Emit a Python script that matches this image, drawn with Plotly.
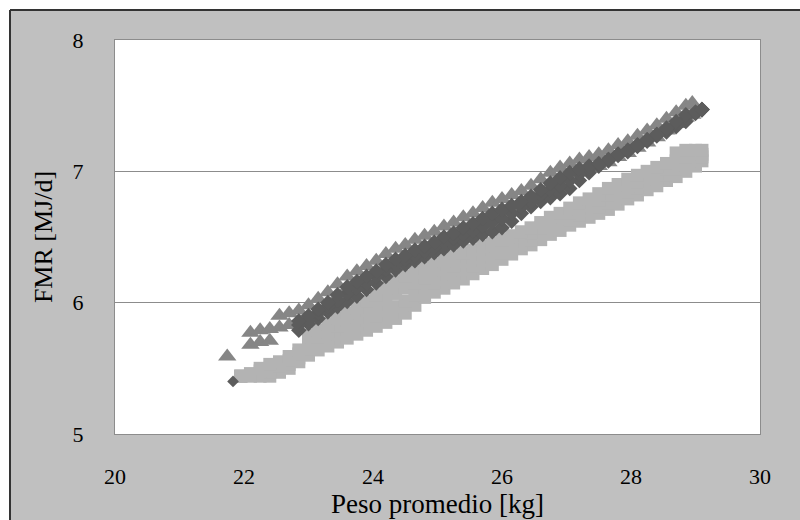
import plotly.graph_objects as go

# ---------------- data ----------------
# Triangles (medium grey series)
tri_single_x = [21.74]
tri_single_y = [5.59]
tri_x = [22.1, 22.25, 22.4, 22.55, 22.7, 22.85, 23.0, 23.15, 23.3, 23.45,
         23.6, 23.75, 23.9, 24.05, 24.2, 24.35, 24.5, 24.65, 24.8, 24.95,
         25.1, 25.25, 25.4, 25.55, 25.7, 25.85, 26.0, 26.15, 26.3, 26.45,
         26.6, 26.75, 26.9, 27.05, 27.2, 27.35, 27.5, 27.65, 27.8, 27.95,
         28.1, 28.25, 28.4, 28.55, 28.7, 28.85, 28.95]
tri_hi = [5.77, 5.79, 5.80, 5.90, 5.92, 5.94, 5.98, 6.03, 6.08, 6.14,
          6.20, 6.24, 6.28, 6.32, 6.37, 6.41, 6.44, 6.48, 6.51, 6.54,
          6.58, 6.61, 6.65, 6.68, 6.72, 6.76, 6.79, 6.82, 6.85, 6.89,
          6.94, 6.99, 7.03, 7.06, 7.09, 7.11, 7.13, 7.16, 7.20, 7.23,
          7.27, 7.31, 7.35, 7.40, 7.45, 7.50, 7.52]
tri_lo = [5.68, 5.70, 5.71, 5.81, 5.83, 5.85, 5.89, 5.94, 5.99, 6.05,
          6.11, 6.15, 6.19, 6.23, 6.28, 6.32, 6.35, 6.39, 6.42, 6.45,
          6.49, 6.52, 6.56, 6.59, 6.63, 6.67, 6.70, 6.73, 6.76, 6.80,
          6.85, 6.90, 6.94, 6.97, 7.00, 7.02, 7.04, 7.07, 7.11, 7.14,
          7.18, 7.22, 7.26, 7.31, 7.36, 7.41, 7.43]

# Squares (light grey series)
sq_x = [21.95, 22.1, 22.25, 22.4, 22.55, 22.7, 22.85, 23.0, 23.15, 23.3,
        23.45, 23.6, 23.75, 23.9, 24.05, 24.2, 24.35, 24.5, 24.65, 24.8,
        24.95, 25.1, 25.25, 25.4, 25.55, 25.7, 25.85, 26.0, 26.15, 26.3,
        26.45, 26.6, 26.75, 26.9, 27.05, 27.2, 27.35, 27.5, 27.65, 27.8,
        27.95, 28.1, 28.25, 28.4, 28.55, 28.7, 28.85, 29.0, 29.1]
sq_lo = [5.44, 5.44, 5.44, 5.44, 5.47, 5.50, 5.55, 5.60, 5.64, 5.67,
         5.70, 5.73, 5.76, 5.79, 5.82, 5.85, 5.88, 5.92, 5.98, 6.04,
         6.08, 6.11, 6.15, 6.18, 6.22, 6.26, 6.29, 6.33, 6.37, 6.41,
         6.44, 6.48, 6.52, 6.55, 6.59, 6.62, 6.65, 6.68, 6.71, 6.75,
         6.79, 6.82, 6.86, 6.89, 6.93, 6.96, 7.00, 7.04, 7.08]
sq_m1 = [5.44, 5.45, 5.46, 5.47, 5.50, 5.53, 5.58, 5.65, 5.69, 5.73,
         5.76, 5.79, 5.83, 5.86, 5.90, 5.94, 5.97, 6.01, 6.06, 6.11,
         6.15, 6.18, 6.22, 6.25, 6.28, 6.32, 6.34, 6.38, 6.42, 6.45,
         6.48, 6.52, 6.56, 6.59, 6.63, 6.67, 6.70, 6.73, 6.76, 6.80,
         6.84, 6.87, 6.91, 6.94, 6.97, 7.02, 7.05, 7.08, 7.11]
sq_m2 = [5.44, 5.45, 5.48, 5.50, 5.52, 5.56, 5.61, 5.70, 5.74, 5.78,
         5.82, 5.86, 5.89, 5.94, 5.98, 6.02, 6.07, 6.11, 6.15, 6.19,
         6.22, 6.25, 6.28, 6.31, 6.34, 6.37, 6.40, 6.43, 6.46, 6.50,
         6.53, 6.57, 6.61, 6.64, 6.68, 6.71, 6.74, 6.78, 6.82, 6.85,
         6.89, 6.92, 6.95, 6.98, 7.02, 7.08, 7.11, 7.12, 7.13]
sq_hi = [5.44, 5.46, 5.50, 5.53, 5.55, 5.59, 5.64, 5.75, 5.79, 5.84,
         5.88, 5.92, 5.96, 6.01, 6.06, 6.11, 6.16, 6.20, 6.23, 6.26,
         6.29, 6.32, 6.35, 6.38, 6.40, 6.43, 6.45, 6.48, 6.51, 6.54,
         6.57, 6.61, 6.65, 6.68, 6.72, 6.76, 6.79, 6.83, 6.87, 6.90,
         6.94, 6.97, 7.00, 7.03, 7.06, 7.14, 7.16, 7.16, 7.16]

# Diamonds (dark grey series)
dia_single_x = [21.83]
dia_single_y = [5.40]
dia_x = [22.85, 23.0, 23.15, 23.3, 23.45, 23.6, 23.75, 23.9, 24.05, 24.2,
         24.35, 24.5, 24.65, 24.8, 24.95, 25.1, 25.25, 25.4, 25.55, 25.7,
         25.85, 26.0, 26.15, 26.3, 26.45, 26.6, 26.75, 26.9, 27.05, 27.2,
         27.35, 27.5, 27.65, 27.8, 27.95, 28.1, 28.25, 28.4, 28.55, 28.7,
         28.85, 29.0, 29.1]
dia_lo = [5.79, 5.84, 5.88, 5.93, 5.97, 6.01, 6.05, 6.10, 6.15, 6.20,
          6.25, 6.29, 6.32, 6.35, 6.38, 6.41, 6.44, 6.47, 6.49, 6.52,
          6.54, 6.57, 6.62, 6.68, 6.73, 6.77, 6.80, 6.83, 6.87, 6.93,
          6.99, 7.04, 7.08, 7.12, 7.15, 7.19, 7.23, 7.27, 7.30, 7.34,
          7.38, 7.44, 7.47]
dia_mid = [5.83, 5.87, 5.92, 5.97, 6.02, 6.07, 6.11, 6.15, 6.20, 6.25,
           6.29, 6.33, 6.36, 6.39, 6.42, 6.46, 6.49, 6.52, 6.55, 6.58,
           6.61, 6.64, 6.68, 6.73, 6.77, 6.82, 6.86, 6.89, 6.93, 6.98,
           7.02, 7.05, 7.09, 7.13, 7.16, 7.20, 7.24, 7.28, 7.32, 7.36,
           7.41, 7.45, 7.47]
dia_hi = [5.86, 5.90, 5.95, 6.00, 6.06, 6.12, 6.16, 6.20, 6.24, 6.29,
          6.33, 6.36, 6.40, 6.43, 6.46, 6.50, 6.53, 6.57, 6.60, 6.64,
          6.68, 6.71, 6.74, 6.77, 6.81, 6.86, 6.91, 6.95, 6.99, 7.02,
          7.04, 7.06, 7.09, 7.13, 7.16, 7.20, 7.24, 7.28, 7.33, 7.38,
          7.43, 7.45, 7.47]

x_ticks = [20, 22, 24, 26, 28, 30]
y_ticks = [5, 6, 7, 8]
x_title = "Peso promedio [kg]"
y_title = "FMR [MJ/d]"

# ---------------- figure ----------------
FONT = "Liberation Serif, Times New Roman, serif"
C_TRI = "#868686"
C_SQ = "#b3b3b3"
C_DIA = "#5c5c5c"

fig = go.Figure()

fig.add_trace(go.Scatter(
    x=tri_single_x + tri_x + tri_x,
    y=tri_single_y + tri_lo + tri_hi,
    mode="markers",
    marker=dict(symbol="triangle-up", size=16, color=C_TRI, line=dict(width=0)),
    hoverinfo="skip"))

fig.add_trace(go.Scatter(
    x=sq_x + sq_x + sq_x + sq_x,
    y=sq_lo + sq_m1 + sq_m2 + sq_hi,
    mode="markers",
    marker=dict(symbol="square", size=13, color=C_SQ, line=dict(width=0)),
    hoverinfo="skip"))

fig.add_trace(go.Scatter(
    x=dia_single_x, y=dia_single_y,
    mode="markers",
    marker=dict(symbol="diamond", size=9, color=C_DIA, line=dict(width=0)),
    hoverinfo="skip"))

fig.add_trace(go.Scatter(
    x=dia_x + dia_x + dia_x,
    y=dia_lo + dia_mid + dia_hi,
    mode="markers",
    marker=dict(symbol="diamond", size=12, color=C_DIA, line=dict(width=0)),
    hoverinfo="skip"))

# outer frame: white strip top/left and dark frame line
px_l, py_t = 10, 10
L, T, W, H = 115, 40, 645, 394
fx = (px_l - L) / W
fy = (T + H - py_t) / H
fig.add_shape(type="rect", xref="paper", yref="paper", x0=-0.3, x1=1.3,
              y0=fy, y1=1.3, fillcolor="white", line=dict(width=0), layer="above")
fig.add_shape(type="rect", xref="paper", yref="paper", x0=-0.3, x1=fx,
              y0=-0.4, y1=1.3, fillcolor="white", line=dict(width=0), layer="above")
fig.add_shape(type="line", xref="paper", yref="paper", x0=fx, x1=1.3, y0=fy, y1=fy,
              line=dict(color="#333333", width=2), layer="above")
fig.add_shape(type="line", xref="paper", yref="paper", x0=fx, x1=fx, y0=-0.4, y1=fy,
              line=dict(color="#333333", width=2), layer="above")

fig.update_layout(
    width=800, height=520,
    margin=dict(l=L, r=800 - L - W, t=T, b=520 - T - H, autoexpand=False),
    paper_bgcolor="#c0c0c0",
    plot_bgcolor="white",
    showlegend=False,
    font=dict(family=FONT, color="black"),
)
fig.update_xaxes(
    range=[20, 30], tickvals=x_ticks, ticktext=[str(v) for v in x_ticks],
    showgrid=False, zeroline=False,
    showline=True, linecolor="#8c8c8c", linewidth=1, mirror=True,
    ticks="", ticklabelstandoff=23,
    tickfont=dict(family=FONT, size=22, color="black"),
    title=dict(text=x_title, font=dict(family=FONT, size=27, color="black"), standoff=3),
    automargin=False,
)
fig.update_yaxes(
    range=[5, 8], tickvals=y_ticks, ticktext=[str(v) for v in y_ticks],
    showgrid=True, gridcolor="#8c8c8c", gridwidth=1, zeroline=False,
    showline=True, linecolor="#8c8c8c", linewidth=1, mirror=True,
    ticks="", ticklabelstandoff=26,
    tickfont=dict(family=FONT, size=22, color="black"),
    title=dict(text=y_title, font=dict(family=FONT, size=26, color="black"), standoff=12),
    automargin=False,
)

fig.write_html("out.html",
               config={"displayModeBar": False},
               post_script="document.body.style.margin='0';document.body.style.overflow='hidden';")
